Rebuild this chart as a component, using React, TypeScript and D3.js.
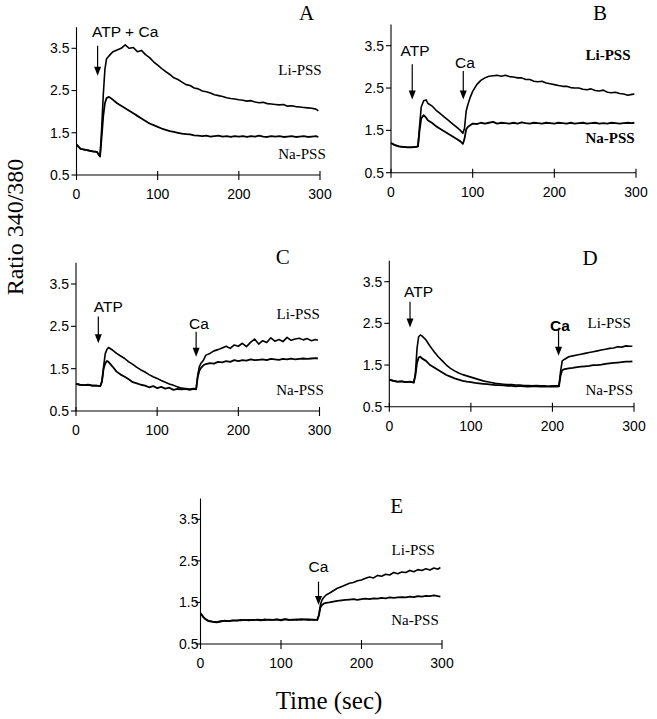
import React from "react";
import * as d3 from "d3";

// ---------- DATA ----------
const xTicks = [0, 100, 200, 300];
const yTicks = [0.5, 1.5, 2.5, 3.5];
const yTickLabels = ["0.5", "1.5", "2.5", "3.5"];

const timeA = [0,5,10,15,20,25,29,31,33,35,37,40,45,50,55,60,65,70,75,80,85,90,95,100,105,110,115,120,125,130,135,140,145,150,155,160,165,170,175,180,185,190,195,200,205,210,215,220,225,230,235,240,245,250,255,260,265,270,275,280,285,290,295,298];
const liA = [1.22,1.12,1.10,1.08,1.06,1.05,
  0.94,1.60,2.40,3.00,3.25,3.32,
  3.42,3.46,3.50,3.58,3.50,3.52,3.42,3.45,3.35,3.28,3.18,
  3.10,3.02,2.95,2.88,2.80,2.76,2.70,2.64,2.62,2.56,
  2.54,2.49,2.47,2.44,2.40,2.38,2.36,2.33,2.31,2.30,
  2.28,2.27,2.25,2.26,2.23,2.21,2.22,2.19,2.18,2.17,
  2.16,2.17,2.13,2.14,2.12,2.11,2.10,2.09,2.08,2.06,
  2.02];
const naA = [1.22,1.12,1.10,1.08,1.06,1.05,
  0.94,1.40,1.90,2.20,2.32,2.35,
  2.28,2.20,2.14,2.08,2.02,1.96,1.90,1.84,1.78,1.72,1.68,
  1.64,1.60,1.57,1.54,1.52,1.50,1.48,1.47,1.46,1.44,
  1.43,1.42,1.43,1.41,1.42,1.43,1.41,1.42,1.40,1.42,
  1.41,1.42,1.40,1.42,1.41,1.43,1.41,1.40,1.42,1.41,
  1.42,1.40,1.41,1.42,1.40,1.41,1.42,1.40,1.41,1.42,
  1.40];

const timeB = [0,5,10,15,20,25,30,33,35,37,40,43,45,50,55,60,65,70,75,80,85,88,90,92,94,97,100,105,110,115,120,125,130,135,140,145,150,155,160,165,170,175,180,185,190,195,200,205,210,215,220,225,230,235,240,245,250,255,260,265,270,275,280,285,290,295,298];
const liB = [1.20,1.15,1.12,1.11,1.10,1.10,1.11,
  1.12,1.60,2.05,2.20,2.22,
  2.14,2.08,1.98,1.90,1.82,1.74,1.66,1.58,1.50,
  1.43,1.55,1.95,2.10,2.28,
  2.42,2.58,2.68,2.74,2.78,2.79,2.80,2.78,2.80,2.77,
  2.76,2.74,2.74,2.70,2.70,2.66,2.65,2.66,2.62,2.60,
  2.58,2.56,2.54,2.54,2.51,2.50,2.50,2.47,2.46,2.48,
  2.44,2.43,2.45,2.40,2.39,2.40,2.37,2.36,2.33,2.35,
  2.36];
const naB = [1.20,1.15,1.12,1.11,1.10,1.10,1.11,
  1.12,1.50,1.78,1.86,1.80,
  1.74,1.68,1.60,1.54,1.48,1.42,1.36,1.30,1.24,
  1.18,1.30,1.52,1.58,1.62,
  1.66,1.65,1.68,1.66,1.68,1.70,1.66,1.68,1.67,1.66,
  1.68,1.66,1.69,1.67,1.66,1.68,1.67,1.66,1.68,1.67,
  1.66,1.68,1.67,1.66,1.68,1.66,1.67,1.68,1.66,1.67,
  1.68,1.66,1.67,1.66,1.68,1.67,1.66,1.67,1.68,1.67,
  1.68];

const timeC = [0,5,10,15,20,25,30,32,34,36,38,40,45,50,55,60,65,70,75,80,85,90,95,100,105,110,115,120,125,130,135,140,145,148,150,152,154,157,160,165,170,175,180,185,190,195,200,205,210,215,220,225,230,235,240,245,250,255,260,265,270,275,280,285,290,295,298];
const liC = [1.14,1.12,1.11,1.12,1.10,1.10,1.09,
  1.20,1.55,1.85,1.95,2.00,
  1.94,1.86,1.80,1.74,1.66,1.60,1.53,1.47,1.42,1.36,1.31,1.27,1.22,1.18,1.14,1.11,1.07,1.04,1.03,1.02,1.03,
  1.02,1.35,1.55,1.63,1.70,
  1.82,1.86,1.92,1.95,1.99,2.03,1.98,2.06,2.03,2.10,2.02,2.12,2.20,2.08,2.16,2.12,2.23,2.15,2.19,2.14,2.24,2.17,2.20,2.22,2.18,2.21,2.16,2.19,
  2.17];
const naC = [1.14,1.12,1.11,1.12,1.10,1.10,1.09,
  1.20,1.50,1.62,1.68,1.66,
  1.55,1.43,1.36,1.31,1.25,1.18,1.15,1.12,1.10,1.06,1.09,1.04,1.07,1.03,1.05,1.00,1.02,1.01,1.02,1.00,1.02,
  1.01,1.30,1.45,1.52,1.58,
  1.61,1.63,1.62,1.66,1.65,1.68,1.66,1.70,1.68,1.70,1.69,1.72,1.70,1.71,1.72,1.70,1.73,1.72,1.71,1.73,1.72,1.74,1.72,1.73,1.74,1.73,1.74,1.75,
  1.74];

const timeD = [0,5,10,15,20,25,30,32,34,36,38,40,45,50,55,60,65,70,75,80,85,90,95,100,105,110,115,120,125,130,135,140,145,150,155,160,165,170,175,180,185,190,195,200,205,208,210,212,215,220,225,230,235,240,245,250,255,260,265,270,275,280,285,290,295,298];
const liD = [1.15,1.12,1.10,1.11,1.09,1.10,1.08,
  1.30,1.90,2.18,2.22,2.20,
  2.10,1.95,1.82,1.70,1.60,1.50,1.42,1.36,1.31,1.27,
  1.24,1.21,1.18,1.15,1.12,1.10,1.08,1.06,1.05,1.04,
  1.03,1.03,1.02,1.02,1.01,1.01,1.00,1.01,1.00,1.00,
  0.99,1.00,1.00,
  1.00,1.35,1.60,1.64,
  1.70,1.72,1.74,1.76,1.78,1.80,1.82,1.84,1.86,1.88,1.90,1.91,1.94,1.93,1.96,1.95,
  1.95];
const naD = [1.15,1.12,1.10,1.11,1.09,1.10,1.08,
  1.25,1.55,1.68,1.70,1.66,
  1.60,1.50,1.44,1.38,1.32,1.26,1.22,1.18,1.15,1.12,
  1.10,1.09,1.07,1.06,1.05,1.04,1.03,1.02,1.02,1.01,
  1.00,1.00,0.99,1.00,0.99,0.98,0.99,0.99,0.98,0.99,
  0.98,0.99,0.98,
  0.99,1.25,1.38,1.40,
  1.42,1.43,1.45,1.46,1.47,1.48,1.50,1.50,1.51,1.53,1.54,1.55,1.56,1.57,1.58,1.58,
  1.59];

const timeE = [0,3,6,10,15,20,25,30,35,40,45,50,55,60,65,70,75,80,85,90,95,100,105,110,115,120,125,130,135,140,145,147,149,151,153,156,160,165,170,175,180,185,190,195,200,205,210,215,220,225,230,235,240,245,250,255,260,265,270,275,280,285,290,295,298];
const liE = [1.24,1.16,1.10,
  1.06,1.04,1.03,1.05,1.06,1.05,1.07,1.06,1.08,1.07,
  1.08,1.07,1.09,1.08,1.07,1.09,1.08,1.09,1.08,1.10,
  1.08,1.09,1.08,1.10,1.09,1.08,1.09,1.08,
  1.20,1.45,1.56,1.62,1.68,
  1.72,1.78,1.84,1.88,1.92,1.96,1.98,2.02,2.04,2.08,
  2.11,2.09,2.15,2.13,2.18,2.16,2.22,2.19,2.23,2.22,2.27,2.24,2.29,2.27,2.31,2.28,2.33,2.30,
  2.34];
const naE = [1.24,1.16,1.10,
  1.05,1.03,1.02,1.04,1.06,1.05,1.06,1.07,1.07,1.08,
  1.07,1.08,1.08,1.07,1.09,1.08,1.08,1.09,1.07,1.09,
  1.08,1.08,1.09,1.08,1.09,1.09,1.08,1.08,
  1.18,1.38,1.44,1.47,1.49,
  1.50,1.52,1.54,1.55,1.56,1.57,1.58,1.56,1.58,1.59,
  1.58,1.60,1.59,1.61,1.60,1.62,1.61,1.62,1.63,1.62,
  1.64,1.63,1.65,1.64,1.66,1.65,1.67,1.65,
  1.64];

// ---------- LAYOUT ----------
type Arrow = { label: string; t: number; vTop: number; vBot: number; lt: number; lv: number; bold?: boolean };
type Panel = {
  id: string; time: number[]; li: number[]; na: number[];
  x0: number; x300: number; y05: number; y35: number;
  letter: [number, number]; liPos: [number, number]; naPos: [number, number];
  arrows: Arrow[]; labelBold?: boolean; yGap: number;
};

const panels: Panel[] = [
  { id: "A", time: timeA, li: liA, na: naA, x0: 76.5, x300: 320, y05: 175, y35: 48.3,
    letter: [306.7, 13], liPos: [300, 70], naPos: [302, 154], yGap: 7,
    arrows: [{ label: "ATP + Ca", t: 26, vTop: 3.56, vBot: 2.85, lt: 60, lv: 3.9 }] },
  { id: "B", time: timeB, li: liB, na: naB, x0: 391, x300: 636, y05: 172.7, y35: 45.7,
    letter: [600, 13], liPos: [608, 55], naPos: [610, 138], labelBold: true, yGap: 7,
    arrows: [
      { label: "ATP", t: 26, vTop: 3.06, vBot: 2.23, lt: 29.4, lv: 3.38 },
      { label: "Ca", t: 88.5, vTop: 2.9, vBot: 2.23, lt: 90.6, lv: 3.11 },
    ] },
  { id: "C", time: timeC, li: liC, na: naC, x0: 76, x300: 319.5, y05: 411, y35: 284,
    letter: [282.7, 256.7], liPos: [298.3, 313.3], naPos: [300, 389.3], yGap: 7,
    arrows: [
      { label: "ATP", t: 27.5, vTop: 2.73, vBot: 2.1, lt: 39.8, lv: 2.96 },
      { label: "Ca", t: 148, vTop: 2.37, vBot: 1.78, lt: 151.5, lv: 2.57 },
    ] },
  { id: "D", time: timeD, li: liD, na: naD, x0: 389.3, x300: 634, y05: 406.7, y35: 281.7,
    letter: [590, 258], liPos: [609.3, 322.7], naPos: [609.3, 390], yGap: 7,
    arrows: [
      { label: "ATP", t: 25.4, vTop: 3.02, vBot: 2.4, lt: 35.9, lv: 3.26 },
      { label: "Ca", t: 207.5, vTop: 2.34, vBot: 1.72, lt: 209.3, lv: 2.45, bold: true },
    ] },
  { id: "E", time: timeE, li: liE, na: naE, x0: 200.5, x300: 442, y05: 644, y35: 519.3,
    letter: [396.7, 506], liPos: [413.3, 550], naPos: [415, 620], yGap: 2,
    arrows: [{ label: "Ca", t: 146.6, vTop: 2.0, vBot: 1.44, lt: 146.6, lv: 2.36 }] },
];

const SANS = "'Liberation Sans', Arial, sans-serif";
const SERIF = "'Liberation Serif', 'Times New Roman', serif";

function PanelView({ p }: { p: Panel }) {
  const x = d3.scaleLinear().domain([0, 300]).range([p.x0, p.x300]);
  const y = d3.scaleLinear().domain([0.5, 3.5]).range([p.y05, p.y35]);
  const mk = (vals: number[]) =>
    d3.line<number>().x((_, i) => x(p.time[i])).y((v) => y(v))(vals) || "";
  const yTop = y(4.0);
  return (
    <g>
      <line x1={p.x0} x2={p.x0} y1={yTop} y2={p.y05} stroke="#000" strokeWidth={1.1} />
      <line x1={p.x0} x2={p.x300} y1={p.y05} y2={p.y05} stroke="#000" strokeWidth={1.1} />
      {yTicks.map((t, i) => (
        <g key={"y" + t}>
          <line x1={p.x0 - 5} x2={p.x0} y1={y(t)} y2={y(t)} stroke="#000" strokeWidth={1.1} />
          <text x={p.x0 - p.yGap} y={y(t)} dy="0.35em" textAnchor="end" fontFamily={SANS} fontSize={14} fill="#000">
            {yTickLabels[i]}
          </text>
        </g>
      ))}
      {xTicks.map((t) => (
        <g key={"x" + t}>
          <line x1={x(t)} x2={x(t)} y1={p.y05 - 4} y2={p.y05 + 5} stroke="#000" strokeWidth={1.1} />
          <text x={x(t)} y={p.y05 + 24} textAnchor="middle" fontFamily={SANS} fontSize={14} fill="#000">
            {t}
          </text>
        </g>
      ))}
      <path d={mk(p.na)} fill="none" stroke="#000" strokeWidth={1.8} strokeLinejoin="round" />
      <path d={mk(p.li)} fill="none" stroke="#000" strokeWidth={1.6} strokeLinejoin="round" />
      {p.arrows.map((a) => {
        const ax = x(a.t);
        const yt = y(a.vTop);
        const yb = y(a.vBot);
        return (
          <g key={a.label}>
            <line x1={ax} x2={ax} y1={yt} y2={yb - 6} stroke="#000" strokeWidth={1.2} />
            <polygon points={`${ax - 3.5},${yb - 9} ${ax + 3.5},${yb - 9} ${ax},${yb}`} fill="#000" />
            <text x={x(a.lt)} y={y(a.lv)} dy="0.35em" textAnchor="middle" fontFamily={SANS}
              fontSize={15.5} fontWeight={a.bold ? "bold" : "normal"} fill="#000">
              {a.label}
            </text>
          </g>
        );
      })}
      <text x={p.liPos[0]} y={p.liPos[1]} dy="0.35em" textAnchor="middle" fontFamily={SERIF} fontSize={15}
        fontWeight={p.labelBold ? "bold" : "normal"} fill="#000">Li-PSS</text>
      <text x={p.naPos[0]} y={p.naPos[1]} dy="0.35em" textAnchor="middle" fontFamily={SERIF} fontSize={15}
        fontWeight={p.labelBold ? "bold" : "normal"} fill="#000">Na-PSS</text>
      <text x={p.letter[0]} y={p.letter[1]} dy="0.35em" textAnchor="middle" fontFamily={SERIF} fontSize={21} fill="#000">
        {p.id}
      </text>
    </g>
  );
}

export default function App() {
  return (
    <svg width={657} height={719} style={{ position: "absolute", left: 0, top: 0, background: "#fff" }}>
      <rect width={657} height={719} fill="#fff" />
      {panels.map((p) => (
        <PanelView key={p.id} p={p} />
      ))}
      <text transform="translate(15,227) rotate(-90)" dy="0.35em" textAnchor="middle" fontFamily={SERIF} fontSize={24} fill="#000">
        Ratio 340/380
      </text>
      <text x={329} y={700} dy="0.35em" textAnchor="middle" fontFamily={SERIF} fontSize={25} fill="#000">
        Time (sec)
      </text>
    </svg>
  );
}
